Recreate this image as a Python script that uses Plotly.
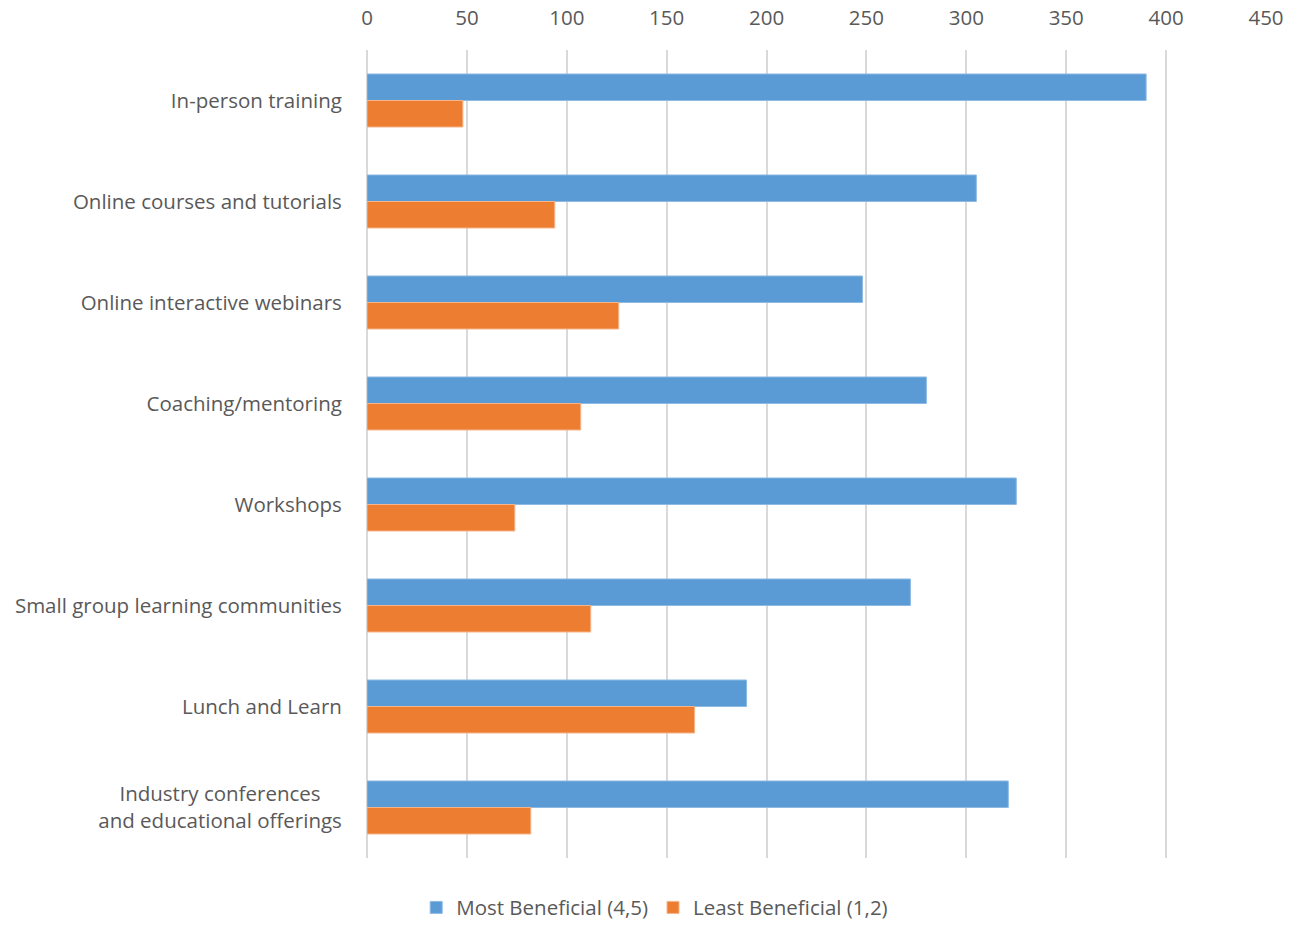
import plotly.graph_objects as go

categories = [
    "In-person training",
    "Online courses and tutorials",
    "Online interactive webinars",
    "Coaching/mentoring",
    "Workshops",
    "Small group learning communities",
    "Lunch and Learn",
    "Industry conferences\u00a0\u00a0\u00a0\u00a0<br>and educational offerings",
]
most_beneficial = [390, 305, 248, 280, 325, 272, 190, 321]
least_beneficial = [48, 94, 126, 107, 74, 112, 164, 82]
x_ticks = [0, 50, 100, 150, 200, 250, 300, 350, 400, 450]

FONT = "Open Sans"
FSIZE = 20.5
TEXT = "#595959"
GRID = "#D9D9D9"

fig = go.Figure()
fig.add_trace(go.Bar(
    y=categories, x=most_beneficial, orientation="h",
    name="Most Beneficial (4,5)",
    marker=dict(color="#5B9BD5", line=dict(color="#8DB9E3", width=1)),
))
fig.add_trace(go.Bar(
    y=categories, x=least_beneficial, orientation="h",
    name="Least Beneficial (1,2)",
    marker=dict(color="#ED7D31", line=dict(color="#F5B58A", width=1)),
))

fig.update_layout(
    width=1299, height=928,
    margin=dict(l=367, r=33, t=50, b=70),
    paper_bgcolor="white", plot_bgcolor="white",
    barmode="group", bargap=0.475, bargroupgap=0,
    font=dict(family=FONT, size=FSIZE, color=TEXT),
    showlegend=True,
    legend=dict(
        orientation="h", xref="container", yref="container",
        x=0.504, xanchor="center", y=0.022, yanchor="middle",
        font=dict(family=FONT, size=FSIZE, color=TEXT),
        itemwidth=30, traceorder="normal",
    ),
    xaxis=dict(
        side="top", range=[0, 450], tickvals=x_ticks,
        showgrid=True, gridcolor=GRID, gridwidth=2,
        zeroline=True, zerolinecolor=GRID, zerolinewidth=2,
        showline=False, automargin=False,
        ticks="outside", ticklen=16, tickcolor="rgba(0,0,0,0)",
        tickfont=dict(family=FONT, size=FSIZE, color=TEXT),
        fixedrange=True,
    ),
    yaxis=dict(
        categoryorder="array", categoryarray=categories,
        autorange="reversed", automargin=False,
        showgrid=False, zeroline=False, showline=False,
        ticks="outside", ticklen=20, tickcolor="rgba(0,0,0,0)",
        tickfont=dict(family=FONT, size=FSIZE, color=TEXT),
        fixedrange=True,
    ),
)

fig.write_html("out.html")
